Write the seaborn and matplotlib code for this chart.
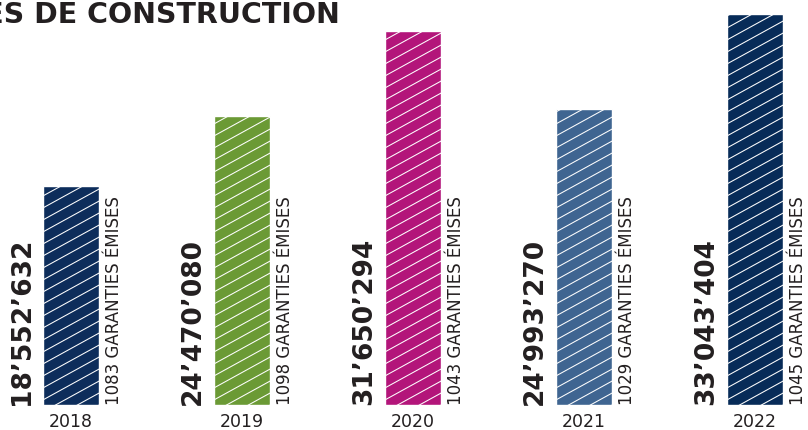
import matplotlib
matplotlib.use("Agg")
import matplotlib.pyplot as plt
from matplotlib.lines import Line2D
from matplotlib.transforms import IdentityTransform
import numpy as np
import pandas as pd
import seaborn as sns

# Data
years = ["2018", "2019", "2020", "2021", "2022"]
amounts = [18552632, 24470080, 31650294, 24993270, 33043404]
amount_labels = ["18’552’632", "24’470’080", "31’650’294", "24’993’270", "33’043’404"]
guarantees = [1083, 1098, 1043, 1029, 1045]
colors = ["#0d2d5b", "#6b9a35", "#b3157a", "#3f6591", "#072b58"]

title = "GARANTIES DE CONSTRUCTION"
text_color = "#231f20"

sns.set_theme(style="white")
plt.rcParams["font.family"] = ["DejaVu Sans"]

df = pd.DataFrame({"year": years, "amount": amounts})

fig = plt.figure(figsize=(8.08, 4.30), dpi=100)
ax = fig.add_axes([0.0, 25 / 430, 1.0, 405 / 430])

sns.barplot(data=df, x="year", y="amount", hue="year", palette=colors,
            legend=False, width=0.33, saturation=1, ax=ax)

ax.set_xlim(-0.415, 4.31)
ax.set_ylim(0, 34.24e6)
ax.set_xlabel("")
ax.set_ylabel("")
ax.set_yticks([])
for s in ax.spines.values():
    s.set_visible(False)
ax.tick_params(axis="x", length=0, pad=6, labelsize=12.5, labelcolor=text_color)

fig.canvas.draw()

# White diagonal hatching clipped to each bar
slope = 0.55
step = 12.0
for patch in ax.patches:
    bb = patch.get_window_extent()
    x0, x1, y0, y1 = bb.x0, bb.x1, bb.y0, bb.y1
    w = x1 - x0
    k = np.arange(y0 - slope * w - step, y1 + step, step)
    for c in k:
        ln = Line2D([x0, x1], [c, c + slope * w], transform=IdentityTransform(),
                    color="white", lw=0.75, solid_capstyle="butt")
        ln.set_clip_path(patch)
        fig.add_artist(ln)

# Value and count labels beside each bar
for i, (lab, g) in enumerate(zip(amount_labels, guarantees)):
    ax.text(i - 0.285, 0, lab, rotation=90, ha="center", va="bottom",
            fontsize=19, fontweight="bold", color=text_color)
    ax.text(i + 0.25, 0, f"{g} GARANTIES ÉMISES", rotation=90, ha="center",
            va="bottom", fontsize=12, color=text_color)

fig.text(340 / 808, 1 - 23 / 430, title, ha="right", va="baseline",
         fontsize=20.5, fontweight="bold", color=text_color)

fig.savefig("out.png", dpi=100)
